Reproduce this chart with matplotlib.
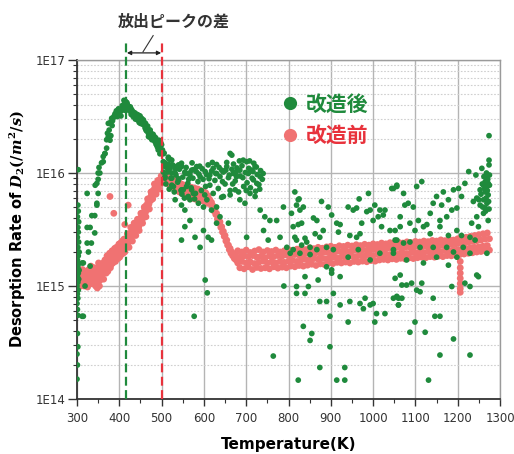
import numpy as np
import matplotlib.pyplot as plt
from matplotlib.lines import Line2D
from matplotlib.ticker import FixedLocator, FuncFormatter, MultipleLocator, LogLocator, NullFormatter
from matplotlib.font_manager import FontProperties

# all rates in units of 1E15 /m^2/s, temperatures in K

# before modification (改造前)
red_low = [(300,1.12),(302,1.05),(304,1.2),(306,1.1),(308,1.25),(310,1.15),(312,1.02),(314,1.3),
           (316,1.18),(318,1.08),(320,1.35),(322,1.22),(324,1.12),(326,1.28),(328,1.4),(330,1.18),
           (332,1.05),(334,1.32),(336,1.22),(338,1.45),(340,1.15),(342,1.3),(344,1.0),(346,1.38),
           (348,0.96),(350,1.25),(352,1.48),(354,1.12),(356,1.35),(358,1.55),(360,1.28),(362,1.6),
           (364,1.4),(366,1.7),(368,1.45),(370,1.62),(372,1.5),(374,1.75),(376,1.58),(378,1.82),
           (380,1.65),(382,1.9),(384,1.72),(386,1.85),(388,1.7),(390,1.95),(392,1.8),(394,2.0),
           (396,1.88),(398,2.1),(400,1.95),(402,2.15),(404,2.02),(406,2.25),(408,2.1),(410,2.3),
           (412,2.15),(414,2.4),(378,6.2),(387,4.4),(413,3.5),(421,5.2)]
red_low_spread = [(301,1.25),(305,1.35),(309,1.0),(313,1.4),(317,1.0),(321,1.15),(325,0.98),(329,1.3),
                  (333,1.5),(337,1.05),(341,1.45),(345,1.2),(349,1.12),(351,1.6),(353,1.0),(357,1.2),
                  (361,1.45),(363,1.15),(367,1.55),(369,1.3),(371,1.85),(373,1.35),(377,1.95),(379,1.45),
                  (381,1.55),(383,2.05),(385,1.6),(389,2.15),(391,1.65),(393,2.2),(397,1.75),(399,2.35),
                  (401,1.8),(403,2.4),(405,1.9),(407,2.5),(409,1.95),(411,2.6),(413,2.0)]
red_rise = [(416,2.5),(418,2.3),(420,2.7),(422,2.45),(424,2.85),(426,2.6),(428,3.0),(430,2.75),
            (432,3.15),(434,2.9),(436,3.3),(438,3.05),(440,3.5),(442,3.2),(444,3.6),(446,3.35),
            (448,3.8),(450,3.6),(452,4.1),(454,3.85),(456,4.4),(458,4.1),(460,4.8),(462,4.5),
            (464,5.2),(466,4.9),(468,5.6),(470,5.3),(472,6.0),(474,5.7),(476,6.5),(478,6.2),
            (480,7.0),(482,6.6),(484,7.4),(486,7.0),(488,7.8),(490,7.4),(492,8.2),(494,7.7),
            (496,8.5),(498,8.0),(500,8.8),(419,2.9),(423,2.2),(427,3.3),(431,2.5),(435,3.6),
            (439,2.8),(443,3.9),(447,3.1),(451,4.4),(455,3.6),(459,5.0),(463,4.1),(467,5.9),
            (471,4.8),(475,6.8),(479,5.9),(483,8.0),(487,6.5),(491,8.6),(495,7.2),(499,9.4)]
red_peak = [(502,9.2),(504,8.6),(506,9.4),(508,8.8),(510,9.0),(512,8.2),(514,9.3),(516,8.6),
            (518,7.9),(520,9.0),(522,8.4),(524,7.6),(526,8.8),(528,8.1),(530,7.4),(532,8.6),
            (534,7.9),(536,7.0),(538,8.3),(540,7.6),(542,6.8),(544,8.1),(546,7.4),(548,6.6),
            (550,7.9),(552,7.2),(554,6.4),(556,7.7),(558,7.0),(560,6.2),(562,7.6),(564,6.9),
            (566,6.1),(568,7.5),(570,6.8),(572,6.0),(574,7.4),(576,6.7),(578,5.9),(580,7.3),
            (582,6.6),(584,5.8),(586,7.2),(588,6.5),(590,5.8),(592,7.0),(594,6.4),(596,5.7),
            (598,6.9),(600,6.2),(602,5.6),(604,6.7),(606,6.0),(608,5.4),(610,6.3),(612,5.7),
            (614,5.8),(616,5.3),(618,5.5),(620,5.0)]
red_drop = [(622,5.1),(624,4.6),(626,4.8),(628,4.3),(630,4.4),(632,3.9),(634,4.0),(636,3.6),
            (638,3.7),(640,3.3),(642,3.35),(644,3.0),(646,3.05),(648,2.75),(650,2.8),(652,2.5),
            (654,2.55),(656,2.3),(658,2.3),(660,2.1),(662,2.15),(664,1.95),(666,2.0),(668,1.85),
            (670,1.9),(672,1.75),(674,1.85),(676,1.7),(678,1.8)]
# flat part: upper and lower reading of the band at each temperature
red_band = [(680,2.05,1.6),(685,1.8,1.45),(690,2.0,1.65),(695,1.85,1.42),(700,2.08,1.6),
            (705,1.82,1.48),(710,1.98,1.63),(715,1.86,1.4),(720,2.04,1.58),(725,1.8,1.46),
            (730,2.1,1.62),(735,1.84,1.43),(740,2.0,1.66),(745,1.78,1.45),(750,2.06,1.6),
            (755,1.85,1.42),(760,2.02,1.64),(765,1.82,1.48),(770,2.08,1.6),(775,1.86,1.44),
            (780,2.0,1.65),(785,1.84,1.47),(790,2.05,1.62),(795,1.88,1.45),(800,2.1,1.66),
            (805,1.87,1.5),(810,2.06,1.68),(815,1.9,1.48),(820,2.12,1.65),(825,1.88,1.52),
            (830,2.15,1.7),(835,1.92,1.5),(840,2.1,1.72),(845,1.95,1.53),(850,2.18,1.7),
            (855,1.93,1.56),(860,2.14,1.75),(865,1.97,1.52),(870,2.2,1.73),(875,1.95,1.57),
            (880,2.16,1.76),(885,1.99,1.55),(890,2.22,1.74),(895,1.97,1.6),(900,2.25,1.78),
            (905,2.0,1.58),(910,2.2,1.8),(915,2.03,1.62),(920,2.27,1.77),(925,2.0,1.6),
            (930,2.24,1.82),(935,2.05,1.63),(940,2.3,1.8),(945,2.02,1.6),(950,2.26,1.84),
            (955,2.07,1.65),(960,2.32,1.82),(965,2.05,1.63),(970,2.28,1.86),(975,2.09,1.66),
            (980,2.34,1.84),(985,2.07,1.64),(990,2.3,1.88),(995,2.1,1.68),(1000,2.36,1.86),
            (1005,2.12,1.66),(1010,2.33,1.9),(1015,2.15,1.7),(1020,2.4,1.88),(1025,2.13,1.72),
            (1030,2.36,1.92),(1035,2.17,1.7),(1040,2.42,1.9),(1045,2.15,1.74),(1050,2.38,1.94),
            (1055,2.19,1.72),(1060,2.44,1.92),(1065,2.17,1.76),(1070,2.4,1.96),(1075,2.2,1.74),
            (1080,2.46,1.94),(1085,2.22,1.77),(1090,2.42,1.98),(1095,2.2,1.75),(1100,2.48,1.96),
            (1105,2.24,1.78),(1110,2.45,2.0),(1115,2.22,1.8),(1120,2.5,1.98),(1125,2.26,1.78),
            (1130,2.47,2.02),(1135,2.25,1.82),(1140,2.53,2.0),(1145,2.28,1.8),(1150,2.5,2.04),
            (1155,2.27,1.84),(1160,2.56,2.02),(1165,2.3,1.82),(1170,2.52,2.06),(1175,2.32,1.86),
            (1180,2.58,2.05),(1185,2.33,1.85),(1190,2.55,2.08),(1195,2.36,1.88),(1200,2.62,2.1),
            (1205,2.4,1.9),(1210,2.65,2.12),(1215,2.42,1.92),(1220,2.7,2.15),(1225,2.45,1.95),
            (1230,2.75,2.18),(1235,2.48,1.97),(1240,2.8,2.2),(1245,2.52,2.0),(1250,2.85,2.22),
            (1255,2.55,2.02),(1260,2.9,2.25),(1265,2.6,2.05),(1270,2.95,2.28),(1275,2.62,2.08)]
red_streak = [(1206,1.65),(1206,1.45),(1206,1.3),(1206,1.17),(1206,1.05),(1206,0.95),(1206,0.88)]

# after modification (改造後)
green_wall = [(300,0.15),(301,0.2),(300,0.25),(302,0.29),(301,0.38),(302,0.55),(301,0.62),(300,0.7),
              (302,0.78),(301,0.85),(303,0.92),(300,1.0),(302,1.08),(304,1.15),(301,1.22),(303,1.3),
              (305,1.38),(302,1.48),(304,1.58),(301,1.7),(303,1.85),(305,2.0),(302,2.2),(304,2.45),
              (301,2.7),(303,3.0),(302,3.3),(304,3.7),(301,4.1),(303,4.6),(302,5.2)]
green_low = [(312,0.54),(315,0.54),(319,1.0),(312,1.6),(315,1.6),(331,1.5),(327,2.0),(324,2.4),
             (334,2.4),(342,2.95),(324,3.3),(331,3.3),(342,4.2),(347,5.4),(335,4.2)]
green_peak = [(303,10.7),(324,6.6),(343,7.8),(347,8.1),(347,5.2),(350,6.6),(350,8.8),(350,10.0),
              (352,11.2),(354,10.0),(358,12.3),(362,12.6),(362,14.0),(366,14.8),(366,14.9),(370,16.6),
              (370,19.7),(374,21.0),(374,27.5),(378,19.5),(380,21.4),(382,30.5),(383,26.3),(386,30.9),
              (390,33.5),(391,33.0),(395,31.6),(398,37.0),(398,34.0),(400,36.0),(402,34.7),(404,32.0),
              (405,36.0),(409,38.0),(410,40.0),(412,36.0),(413,42.7),(416,40.0),(418,42.0),(420,38.0),
              (421,39.0),(422,37.0),(424,35.5),(427,36.0),(428,33.0),(429,36.5),(430,33.0),(432,35.0),
              (435,34.0),(437,34.0),(438,30.0),(440,31.6),(442,33.0),(445,30.0),(445,32.5),(447,28.0),
              (449,32.0),(451,30.0),(453,28.0),(453,30.4),(455,27.0),(457,29.5),(457,27.5),(459,28.0),
              (461,26.0),(461,25.0),(463,24.0),(465,25.7),(465,23.5),(467,26.0),(469,22.4),(469,21.0),
              (471,23.0),(473,24.0),(475,22.5),(477,21.0),(477,19.7),(479,20.5),(481,20.0),(483,21.0),
              (484,19.0),(485,19.5),(487,18.0),(488,17.8),(489,18.6),(491,19.0),(492,16.0),(493,18.2),
              (495,16.5),(496,17.0),(496,14.8),(498,18.5),(500,17.8),(502,16.0),(504,14.8),(504,12.6),
              (506,15.0),(508,12.3),(512,11.2),(516,13.8),(516,13.5),(520,13.2),(520,11.0),(524,10.0),
              (524,13.0),(532,11.4),(540,11.8),(547,11.4),(504,10.2),(508,9.3),(524,9.0),(532,10.0),
              (540,8.7),(555,10.2),(567,9.6),(575,10.7),(528,7.6),(547,7.1),(559,7.6),(532,5.8),
              (547,5.2),(555,4.7),(567,5.8),(571,7.1),
              (372,22.5),(376,24.0),(379,28.0),(384,29.0),(388,32.0),(393,35.5),(397,33.0),(407,39.5),
              (411,44.0),(415,43.0),(419,40.5),(426,38.5),(433,31.5),(443,29.5),(450,27.5),(462,27.5),
              (468,24.5),(474,20.5),(480,22.0),(486,20.5),(490,17.0),(494,19.5),(499,15.5)]
green_plateau = [(547,12.2),(559,9.9),(571,10.6),(583,11.4),(591,9.3),(603,10.3),(614,9.6),(622,11.0),
                 (630,9.9),(642,10.6),(654,11.4),(662,14.9),(666,14.4),(670,9.9),(677,9.3),(685,10.6),
                 (693,13.0),(701,12.6),(705,9.9),(713,10.6),(721,11.4),(717,8.7),(725,8.1),(733,9.3),
                 (551,7.1),(563,6.2),(575,6.6),(587,5.4),(599,5.0),(607,5.8),(618,4.7),(630,5.0),
                 (646,6.2),(662,6.4),(674,7.1),(685,5.8),(697,5.4),(709,6.6),(721,6.2),(733,4.7),
                 (744,4.1),(756,3.8),(772,3.8),(788,5.0),(547,2.55),(555,3.35),(567,3.8),(579,2.7),
                 (591,2.2),(599,3.1),(610,2.7),(618,2.55),(630,3.6),(638,4.1),(658,3.6),(701,2.7),
                 (741,3.1),(752,2.55),(780,2.7),(796,2.2),(603,1.13),(608,0.87),(577,0.54)]
green_fill = [(506,11.5),(510,8.0),(514,10.2),(518,7.2),(522,9.0),(526,11.8),(530,6.8),(534,9.6),
              (538,8.3),(542,10.8),(546,7.0),(550,9.2),(554,6.0),(558,11.2),(562,8.1),(566,10.0),
              (570,7.4),(574,9.0),(578,5.9),(582,10.3),(586,8.4),(590,11.5),(594,7.0),(598,8.8),
              (602,6.4),(606,9.7),(610,11.8),(614,7.8),(618,10.4),(622,6.6),(626,8.6),(630,11.9),
              (634,7.3),(638,9.3),(642,6.1),(646,10.2),(650,8.0),(654,12.4),(658,9.1),(662,7.0),
              (666,10.8),(670,12.0),(674,8.5),(678,11.1),(682,6.8),(686,9.4),(690,11.6),(694,7.6),
              (698,10.1),(702,8.2),(706,11.0),(710,7.4),(714,9.0),(718,12.2),(722,6.9),(726,9.7),
              (730,7.9),(734,10.5),(738,8.8),(508,9.0),(516,12.0),(524,7.8),(532,10.9),(540,8.9),
              (548,6.5),(556,10.0),(564,8.8),(572,12.3),(580,6.6),(588,9.8),(596,10.9),(604,7.6),
              (612,8.9),(620,12.4),(628,9.9),(636,11.2),(644,8.4),(652,10.6),(660,9.6),(668,8.0),
              (676,10.2),(684,12.8),(692,9.1),(700,7.0),(708,12.8),(716,10.3),(724,11.3),(732,7.2),
              (740,9.9)]
green_tail = [(764,0.24),(789,1.0),(815,6.8),(823,5.8),(819,5.2),(827,4.7),(835,5.0),(807,4.4),
              (811,3.35),(823,3.5),(831,3.6),(815,2.7),(839,2.65),(819,2.55),(843,2.45),(831,2.3),
              (811,2.1),(851,2.2),(863,2.9),(867,3.8),(859,4.0),(878,5.6),(874,2.7),(882,3.1),
              (894,5.0),(902,4.25),(867,2.1),(890,2.2),(906,2.1),(914,3.6),(922,3.5),(918,3.0),
              (941,5.0),(953,4.7),(961,4.9),(945,2.8),(961,2.7),(969,2.9),(973,3.6),(989,6.6),
              (985,4.55),(993,4.7),(1000,3.8),(1004,5.2),(1012,4.1),(1016,4.7),(1028,4.7),(1024,4.25),
              (1020,3.35),(1040,3.1),(1048,7.3),(1056,7.8),(1052,2.55),(1064,3.35),(967,5.9),(825,5.9),
              (804,1.95),(827,1.95),(851,1.9),(890,1.48),(902,1.39),(941,1.8),(965,2.1),(993,1.7),
              (1016,1.95),(1048,2.1),(839,1.21),(819,0.99),(847,0.99),(819,0.86),(839,0.86),(870,1.13),
              (874,0.73),(890,0.73),(902,1.3),(898,0.54),(906,0.86),(922,1.21),(922,0.68),(945,0.73),
              (941,0.48),(969,0.70),(981,0.78),(977,0.63),(993,0.68),(1000,0.70),(1008,0.57),(1028,0.57),
              (1004,0.48),(1056,0.81),(1060,0.68),(835,0.44),(855,0.38),(851,0.33),(898,0.29),(874,0.19),
              (933,0.19),(823,0.147),(914,0.147),(933,0.147),
              (1274,21.4),(1274,13.0),(1274,11.8),(1226,10.3),(1257,11.0),(1243,9.6),(1269,9.0),(1265,8.4),
              (1272,8.1),(1261,7.8),(1269,7.6),(1253,7.1),(1265,6.8),(1272,6.4),(1245,6.0),(1261,5.8),
              (1237,5.6),(1269,5.4),(1253,5.2),(1265,4.9),(1261,4.4),(1245,4.1),(1272,3.8),(1233,3.6),
              (1249,3.35),(1269,1.95),(1262,9.3),(1268,10.0),(1271,8.8),(1258,8.0),(1264,7.3),(1270,7.0),
              (1255,6.5),(1267,6.0),(1273,5.6),(1250,5.8),(1259,5.0),(1266,4.6),(1274,4.8),(1275,7.8),
              (1275,9.6),
              (1115,8.4),(1103,7.6),(1056,7.6),(1044,7.3),(1072,6.6),(1166,6.8),(1190,7.1),(1202,7.3),
              (1217,8.1),(1209,6.2),(1178,5.8),(1150,6.2),(1142,5.4),(1162,5.2),(1186,4.7),(1198,4.9),
              (1135,4.4),(1158,3.8),(1174,4.1),(1075,5.2),(1083,5.4),(1095,5.0),(1064,4.1),(1087,3.6),
              (1107,3.8),(1119,3.35),(1127,3.5),(1099,3.1),(1135,2.9),(1158,3.35),(1178,2.8),(1198,3.1),
              (1209,2.8),(1229,2.7),(1241,2.55),(1052,3.1),(1056,2.55),(1072,2.4),(1087,2.45),(1111,2.2),
              (1142,2.2),(1174,2.2),(1190,2.0),(1213,2.2),(1229,1.95),(1048,1.95),(1079,1.7),(1119,1.6),
              (1150,1.8),(1178,1.53),(1198,1.8),(1249,1.21),(1245,1.25),
              (1052,1.17),(1064,1.25),(1068,1.02),(1079,1.02),(1091,1.06),(1103,0.92),(1115,1.06),(1111,0.89),
              (1142,0.78),(1186,0.99),(1217,1.06),(1229,0.99),(1048,0.78),(1060,0.78),(1068,0.78),(1060,0.68),
              (1146,0.54),(1158,0.54),(1099,0.48),(1087,0.39),(1123,0.39),(1190,0.34),(1158,0.245),(1229,0.245),
              (1131,0.147)]

peak_after = 416    # K
peak_before = 501   # K
xticks = [300, 400, 500, 600, 700, 800, 900, 1000, 1100, 1200, 1300]
yticks = [1e14, 1e15, 1e16, 1e17]
ytick_labels = ['1E14', '1E15', '1E16', '1E17']


def unpack(*parts):
    pts = [p for part in parts for p in part]
    return np.array([p[0] for p in pts], float), np.array([p[1] for p in pts], float) * 1e15


band_pts = [(t, v) for t, hi, lo in red_band for v in (hi, lo)]
red_t, red_r = unpack(red_low, red_low_spread, red_rise, red_peak, red_drop, band_pts, red_streak)
green_t, green_r = unpack(green_wall, green_low, green_peak, green_plateau, green_fill, green_tail)

GREEN = '#1f8a3c'
SALMON = '#f07272'
RED = '#e8323c'

plt.rcParams['font.family'] = ['DejaVu Sans', 'Noto Sans CJK JP']
plt.rcParams['mathtext.fontset'] = 'custom'
plt.rcParams['mathtext.it'] = 'DejaVu Serif:italic:bold'
plt.rcParams['mathtext.rm'] = 'DejaVu Serif:bold'

fig = plt.figure(figsize=(5.14, 4.54), dpi=100)
ax = fig.add_axes([0.1498, 0.1211, 0.823, 0.7467])

ax.scatter(red_t, red_r, s=24, color=SALMON, edgecolors='none', zorder=3)
ax.scatter(green_t, green_r, s=17, color=GREEN, edgecolors='none', zorder=4)

ax.set_yscale('log')
ax.set_xlim(300, 1300)
ax.set_ylim(1e14, 1e17)
ax.xaxis.set_major_locator(FixedLocator(xticks))
ax.xaxis.set_minor_locator(MultipleLocator(50))
ax.yaxis.set_major_locator(FixedLocator(yticks))
ax.yaxis.set_major_formatter(FuncFormatter(lambda v, p: ytick_labels[yticks.index(v)] if v in yticks else ''))
ax.yaxis.set_minor_locator(LogLocator(base=10, subs=np.arange(2, 10)))
ax.yaxis.set_minor_formatter(NullFormatter())

ax.grid(which='major', color='#b4b4b4', lw=1.0, zorder=1)
ax.grid(which='minor', axis='y', color='#cfcfcf', lw=0.8, ls=(0, (1.5, 1.5)), zorder=1)
ax.set_axisbelow(True)

ax.tick_params(which='major', direction='out', length=5, width=1, colors='#333333', labelsize=8.5)
ax.tick_params(which='minor', direction='out', length=3, width=0.8, colors='#333333')
ax.tick_params(axis='y', which='major', length=6.5, pad=2)
ax.tick_params(axis='x', pad=4)
for side in ['left', 'bottom']:
    ax.spines[side].set_color('#333333')
    ax.spines[side].set_linewidth(1.3)
for side in ['top', 'right']:
    ax.spines[side].set_color('#9a9a9a')
    ax.spines[side].set_linewidth(1.0)

ax.set_xlabel('Temperature(K)', fontsize=11, fontweight='bold', labelpad=9)
ax.set_ylabel('Desorption Rate of $D_2(/m^2/s)$', fontsize=10.5, fontweight='bold', labelpad=5)

# peak position markers
tr = ax.get_xaxis_transform()
ax.plot([peak_after, peak_after], [0, 1.053], transform=tr, color=GREEN, lw=1.6,
        ls=(0, (4, 2)), clip_on=False, zorder=5)
ax.plot([peak_before, peak_before], [0, 1.059], transform=tr, color=RED, lw=1.6,
        ls=(0, (4, 2)), clip_on=False, zorder=5)
ax.annotate('', xy=(peak_before - 2, 1.021), xytext=(peak_after + 2, 1.021), xycoords=tr, textcoords=tr,
            arrowprops=dict(arrowstyle='<|-|>', color='#222222', lw=0.9, mutation_scale=6,
                            shrinkA=0, shrinkB=0))
ax.plot([456, 480], [1.024, 1.072], transform=tr, color='#333333', lw=0.8, clip_on=False)
ax.text(529, 1.113, '放出ピークの差', transform=tr, ha='center', va='center', fontsize=11.5,
        family=['Noto Sans CJK JP', 'DejaVu Sans'], fontweight='bold', color='#333333')

handles = [Line2D([], [], ls='none', marker='o', ms=9.5, color=GREEN, mec='none'),
           Line2D([], [], ls='none', marker='o', ms=9.5, color=SALMON, mec='none')]
leg = ax.legend(handles, ['改造後', '改造前'], loc='center left', bbox_to_anchor=(0.484, 0.824),
                frameon=False, handlelength=0.8, handletextpad=0.35, labelspacing=0.5,
                borderpad=0, borderaxespad=0, labelcolor=[GREEN, RED],
                prop=FontProperties(family=['Noto Sans CJK JP', 'DejaVu Sans'], weight='bold', size=15))

fig.savefig('out.png', dpi=100)
